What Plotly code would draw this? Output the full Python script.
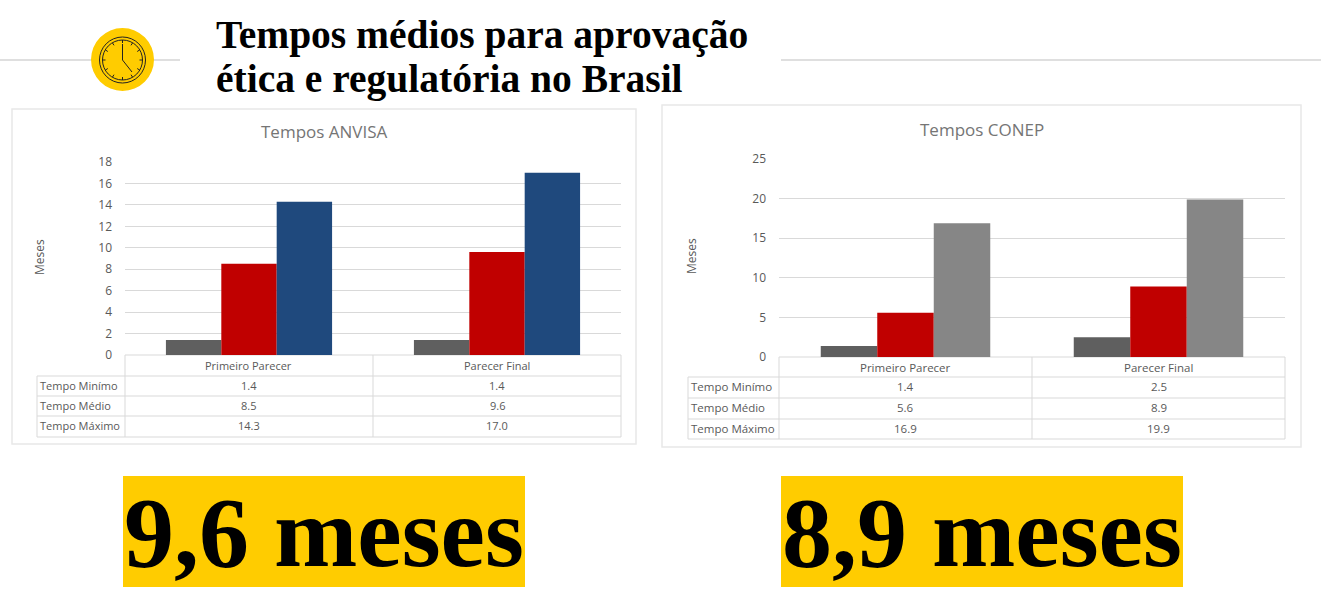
import plotly.graph_objects as go

W = 1321
H = 605

categories = ['Primeiro Parecer', 'Parecer Final']
row_labels = ['Tempo Minímo', 'Tempo Médio', 'Tempo Máximo']

anvisa_min = [1.4, 1.4]
anvisa_med = [8.5, 9.6]
anvisa_max = [14.3, 17.0]

conep_min = [1.4, 2.5]
conep_med = [5.6, 8.9]
conep_max = [16.9, 19.9]

anvisa_ticks = [0, 2, 4, 6, 8, 10, 12, 14, 16, 18]
conep_ticks = [0, 5, 10, 15, 20, 25]

title_lines = ['Tempos médios para aprovação', 'ética e regulatória no Brasil']
anvisa_big = '9,6 meses'
conep_big = '8,9 meses'

YELLOW = '#FFCC00'
GRID = '#d9d9d9'
TEXT = '#595959'
CHART_FONT = 'Open Sans'
SERIF = 'Liberation Serif'


# pixel position -> paper fraction
def px(x):
    return x / W


def py(y):
    return 1 - y / H


shapes = []
annotations = []


def box(x0, y0, x1, y1, fill='rgba(0,0,0,0)', color='rgba(0,0,0,0)', width=1, layer='below'):
    shapes.append(dict(type='rect', xref='paper', yref='paper', x0=px(x0), y0=py(y0), x1=px(x1), y1=py(y1),
                       fillcolor=fill, line=dict(color=color, width=width), layer=layer))


def line(x0, y0, x1, y1, color=GRID, width=1, layer='below'):
    shapes.append(dict(type='line', xref='paper', yref='paper', x0=px(x0), y0=py(y0), x1=px(x1), y1=py(y1),
                       line=dict(color=color, width=width), layer=layer))


def text(x, y, s, size=11.5, color=TEXT, family=CHART_FONT, anchor='center', angle=0, weight='normal'):
    annotations.append(dict(xref='paper', yref='paper', x=px(x), y=py(y), text=s, showarrow=False,
                            xanchor=anchor, yanchor='middle', textangle=angle, borderpad=0,
                            font=dict(size=size, color=color, family=family, weight=weight)))


def data_table(left, x0, x1, x2, rows_y, values, size):
    # grid of the table under each chart, same columns as the categories
    top = rows_y[0]
    bottom = rows_y[-1]
    line(x0, top, x2, top)
    for y in rows_y[1:]:
        line(left, y, x2, y)
    line(left, rows_y[1], left, bottom)
    for x in (x0, x1, x2):
        line(x, top, x, bottom)
    centres = [(x0 + x1) / 2, (x1 + x2) / 2]
    for c, cat in zip(centres, categories):
        text(c, (rows_y[0] + rows_y[1]) / 2, cat, size=size)
    for i, label in enumerate(row_labels):
        yc = (rows_y[i + 1] + rows_y[i + 2]) / 2 - 1
        text(left + 2, yc, label, anchor='left', size=size)
        for c, v in zip(centres, values[i]):
            text(c, yc, f'{v:.1f}', size=size)


fig = go.Figure()

# ANVISA chart
for name, vals, col in [(row_labels[0], anvisa_min, '#5f5f5f'),
                        (row_labels[1], anvisa_med, '#c00000'),
                        (row_labels[2], anvisa_max, '#1f497d')]:
    fig.add_trace(go.Bar(x=categories, y=vals, name=name, marker=dict(color=col, line=dict(width=0)),
                         xaxis='x', yaxis='y'))

# CONEP chart
for name, vals, col in [(row_labels[0], conep_min, '#5f5f5f'),
                        (row_labels[1], conep_med, '#c00000'),
                        (row_labels[2], conep_max, '#868686')]:
    fig.add_trace(go.Bar(x=categories, y=vals, name=name, marker=dict(color=col, line=dict(width=0)),
                         xaxis='x2', yaxis='y2'))

# header
line(0, 60, 180, 60, color='#bfbfbf')
line(781, 60, W, 60, color='#bfbfbf')
shapes.append(dict(type='circle', xref='paper', yref='paper', x0=px(91), y0=py(91), x1=px(154), y1=py(28),
                   fillcolor=YELLOW, line=dict(color=YELLOW, width=0), layer='above'))
for r, w in [(23, 1), (20, 1)]:
    shapes.append(dict(type='circle', xref='paper', yref='paper', x0=px(122.5 - r), y0=py(60 + r),
                       x1=px(122.5 + r), y1=py(60 - r), line=dict(color='#222222', width=w), layer='above'))
line(122.5, 60, 122.5, 44, color='#222222', layer='above')
line(122.5, 60, 132, 72, color='#222222', layer='above')
for dx0, dy0, dx1, dy1 in [(0, -20, 0, -17), (0, 17, 0, 20), (-20, 0, -17, 0), (17, 0, 20, 0),
                           (10, -17, 8.5, -14.7), (17, -10, 14.7, -8.5), (17, 10, 14.7, 8.5), (10, 17, 8.5, 14.7),
                           (-10, 17, -8.5, 14.7), (-17, 10, -14.7, 8.5), (-17, -10, -14.7, -8.5), (-10, -17, -8.5, -14.7)]:
    line(122.5 + dx0, 60 + dy0, 122.5 + dx1, 60 + dy1, color='#222222', layer='above')

text(215, 35, title_lines[0], size=39.5, color='#000000', family=SERIF, anchor='left', weight='bold')
text(215, 79, title_lines[1], size=39.5, color='#000000', family=SERIF, anchor='left', weight='bold')

# chart frames
box(12, 109, 636, 444, color='#e8e8e8', width=1.5)
box(662, 105, 1301, 447, color='#e8e8e8', width=1.5)

text(324, 132, 'Tempos ANVISA', size=17, color='#757575')
text(982, 129, 'Tempos CONEP', size=17, color='#757575')
text(39, 257, 'Meses', angle=-90, size=12)
text(691, 256, 'Meses', angle=-90, size=12)

data_table(37, 125, 373, 621, [355, 376, 396, 416, 437], [anvisa_min, anvisa_med, anvisa_max], 11)
data_table(688, 779, 1032, 1285, [357, 377, 398, 419, 439], [conep_min, conep_med, conep_max], 11.5)

# yellow callouts
box(123, 476, 525, 587, fill=YELLOW)
box(781, 476, 1183, 587, fill=YELLOW)
text(324, 532, anvisa_big, size=100, color='#000000', family=SERIF, weight='bold')
text(982, 532, conep_big, size=100, color='#000000', family=SERIF, weight='bold')

tick_font = dict(size=12, color=TEXT, family=CHART_FONT)
fig.update_layout(
    width=W,
    height=H,
    margin=dict(l=0, r=0, t=0, b=0, pad=0, autoexpand=False),
    autosize=False,
    paper_bgcolor='white',
    plot_bgcolor='white',
    showlegend=False,
    barmode='group',
    bargap=0.33,
    bargroupgap=0,
    shapes=shapes,
    annotations=annotations,
    xaxis=dict(domain=[px(125), px(621)], anchor='y', showticklabels=False, ticks='', showgrid=False,
               zeroline=False),
    yaxis=dict(domain=[py(355), py(162)], anchor='x', range=[0, 18], tickvals=anvisa_ticks, gridcolor=GRID,
               zeroline=False, showline=False, tickfont=tick_font, ticklabelstandoff=12),
    xaxis2=dict(domain=[px(779), px(1285)], anchor='y2', showticklabels=False, ticks='', showgrid=False,
                zeroline=False),
    yaxis2=dict(domain=[py(357), py(159)], anchor='x2', range=[0, 25], tickvals=conep_ticks, gridcolor=GRID,
                zeroline=False, showline=False, tickfont=tick_font, ticklabelstandoff=12),
)

fig.write_html("out.html", config=dict(displayModeBar=False), post_script="document.body.style.margin='0';")
